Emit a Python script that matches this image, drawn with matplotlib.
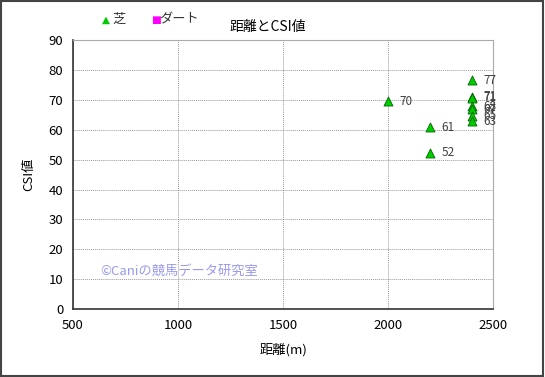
import matplotlib
matplotlib.use("Agg")
import matplotlib.pyplot as plt
from matplotlib.patches import Rectangle

plt.rcParams['font.family'] = ['Noto Sans CJK JP', 'DejaVu Sans']

# data: turf races (distance, CSI)
turf_dist = [2000, 2200, 2200, 2400, 2400, 2400, 2400, 2400, 2400, 2400]
turf_csi = [69.5, 60.8, 52.3, 76.6, 71.0, 70.6, 67.9, 66.8, 64.6, 62.9]
turf_lbl = ["70", "61", "52", "77", "71", "71", "68", "67", "65", "63"]

dirt_dist = []
dirt_csi = []

x_ticks = [500, 1000, 1500, 2000, 2500]
y_ticks = list(range(0, 100, 10))

fig = plt.figure(figsize=(5.45, 3.77), dpi=100)
ax = fig.add_axes([0.134, 0.180, 0.771, 0.714])

ax.scatter(turf_dist, turf_csi, marker='^', s=42, color='#00cc00',
           edgecolors='#006600', linewidths=0.6, zorder=3)
ax.scatter(dirt_dist, dirt_csi, marker='s', s=30, color='#ff00ff', zorder=3)
for x, y, t in zip(turf_dist, turf_csi, turf_lbl):
    ax.annotate(t, (x, y), xytext=(8, 0), textcoords='offset points',
                fontsize=8.5, color='#404040', va='center', ha='left')

ax.set_xlim(500, 2500)
ax.set_ylim(0, 90)
ax.set_xticks(x_ticks)
ax.set_yticks(y_ticks)
ax.tick_params(length=0, labelsize=9.5, pad=7)
ax.grid(True, color='#999999', linestyle=(0, (1, 1)), linewidth=0.7)
ax.set_axisbelow(True)
for s in ['top', 'right']:
    ax.spines[s].set_color('#aaaaaa')
for s in ['left', 'bottom']:
    ax.spines[s].set_color('#333333')
    ax.spines[s].set_linewidth(1.2)

ax.set_xlabel("距離(m)", fontsize=9.5, labelpad=8)
ax.set_ylabel("CSI値", fontsize=9.5, labelpad=10)
fig.text(0.492, 0.928, "距離とCSI値", fontsize=10, ha='center', va='center')

ax.text(0.065, 0.14, "©Caniの競馬データ研究室", transform=ax.transAxes,
        fontsize=9.5, color='#9999ee', va='center')

# legend-like header
fig.text(0.188, 0.948, "▲", color='#00cc00', fontsize=7.5, va='center',
         family=['DejaVu Sans'])
fig.text(0.207, 0.948, "芝", color='#333333', fontsize=9.5, va='center')
fig.text(0.277, 0.948, "■", color='#ff00ff', fontsize=7.5, va='center',
         family=['DejaVu Sans'])
fig.text(0.293, 0.948, "ダート", color='#333333', fontsize=9.5, va='center')

fig.patches.append(Rectangle((0.002, 0.003), 0.995, 0.994, transform=fig.transFigure,
                             fill=False, edgecolor='#444444', linewidth=1.5))

fig.savefig("out.png", dpi=100)
